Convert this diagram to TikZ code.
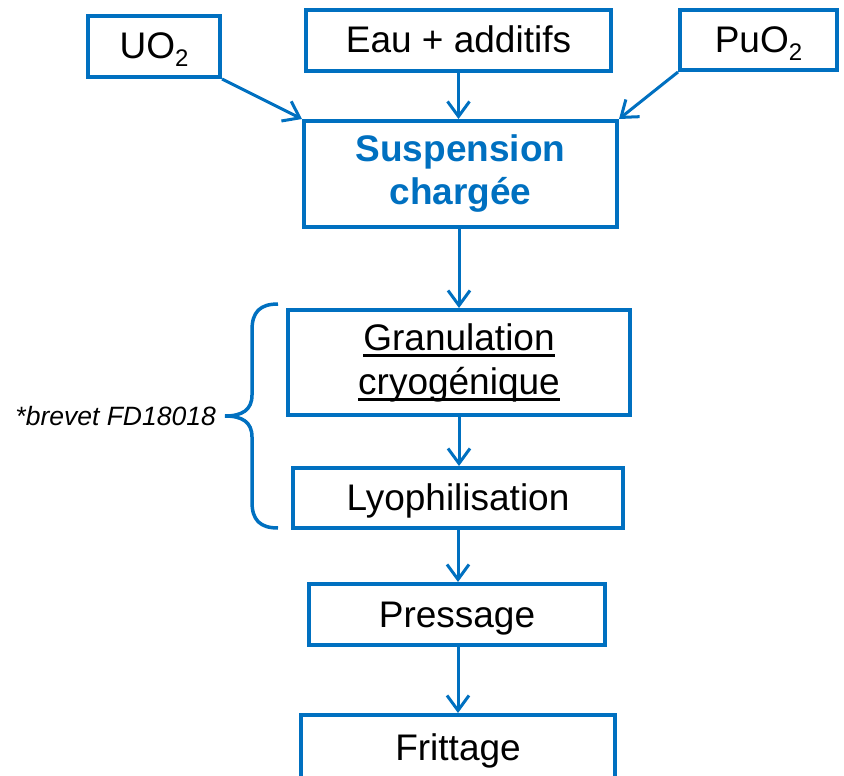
\documentclass[tikz,border=0pt]{standalone}
\usepackage{fontspec}
\setmainfont{Liberation Sans}
\usetikzlibrary{arrows.meta}
\definecolor{pblue}{HTML}{0070C0}
\newcommand\undl[1]{\setbox0\hbox{#1}\rlap{\rule[-6.5pt]{\wd0}{2.8pt}}\box0}
\newcommand\subtwo{\raisebox{-8pt}{\fontsize{24}{24}\selectfont 2}}
\begin{document}
\begin{tikzpicture}[x=1pt,y=-1pt,
  box/.style={draw=pblue,line width=4pt,rectangle,inner sep=0pt,align=center,
    font=\fontsize{37}{44}\selectfont},
  onebox/.style={box,text height=30pt,text depth=5pt},
  arr/.style={draw=pblue,line width=3pt,-{Straight Barb[length=15pt,width=22pt,line width=3pt]}}]
\useasboundingbox (0,0) rectangle (844,776);
\node[onebox,minimum width=132pt,minimum height=61pt] (uo) at (154,46.5) {UO\subtwo};
\node[onebox,minimum width=305pt,minimum height=61pt] (eau) at (458.5,40.5) {Eau + additifs};
\node[onebox,minimum width=157pt,minimum height=60pt] (pu) at (758.5,40) {PuO\subtwo};
\node[box,minimum width=313pt,minimum height=106pt,text=pblue,font=\fontsize{37}{43}\selectfont\bfseries] (su) at (460.5,174) {Suspension\\chargée};
\node[box,minimum width=342pt,minimum height=105pt] (gr) at (459,362.5) {\undl{Granulation}\\\undl{cryogénique}};
\node[onebox,minimum width=330pt,minimum height=60pt] (ly) at (458,498) {Lyophilisation};
\node[onebox,minimum width=296pt,minimum height=61pt] (pr) at (457,614.5) {Pressage};
\node[onebox,minimum width=314pt,minimum height=66pt] (fr) at (458,748) {Frittage};
\draw[arr] (uo.south east) -- (su.north west);
\draw[arr] (pu.south west) -- (su.north east);
\draw[arr] (eau.south) -- (eau.south |- su.north);
\draw[arr] (gr.north |- su.south) -- (gr.north);
\draw[arr] (gr.south) -- (gr.south |- ly.north);
\draw[arr] (ly.south) -- (ly.south |- pr.north);
\draw[arr] (pr.south -| ly.south) -- (ly.south |- fr.north);
\draw[pblue,line width=3.5pt] (278,304) .. controls (260,304) and (252,312) .. (252,330)
  -- (252,395) .. controls (252,410) and (242,416) .. (225,416)
  .. controls (242,416) and (252,422) .. (252,437)
  -- (252,502) .. controls (252,520) and (260,528) .. (278,528);
\node[anchor=east,inner sep=0pt,font=\fontsize{26.5}{30}\selectfont\itshape] (brevet) at (216,416) {*brevet FD18018};
\end{tikzpicture}
\end{document}
